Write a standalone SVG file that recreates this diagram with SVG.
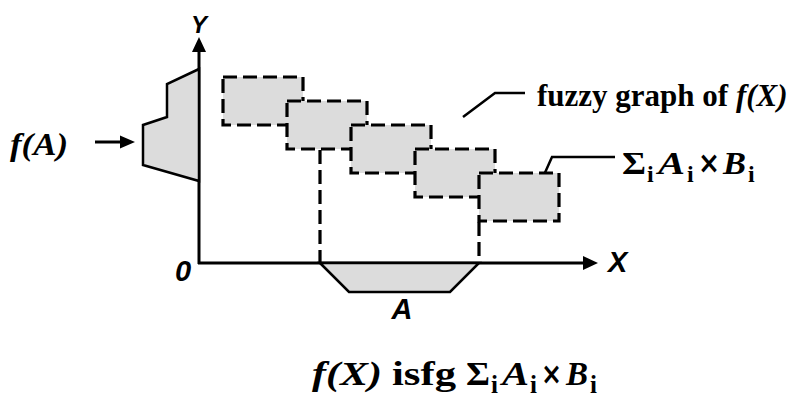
<svg xmlns="http://www.w3.org/2000/svg" width="798" height="400" viewBox="0 0 798 400">
<style>
.ax{stroke:#000;stroke-width:3;fill:none}
.shape{fill:#dcdcdc;stroke:#000;stroke-width:2.5;stroke-linejoin:miter}
.fz{fill:#dcdcdc;stroke:#000;stroke-width:3.2;stroke-dasharray:14 6}
.dl{stroke:#000;stroke-width:3.2;stroke-dasharray:14 6;fill:none}
.ld{stroke:#000;stroke-width:2.5;fill:none}
.sans{font-family:"Liberation Sans",Arial,sans-serif;font-weight:bold;font-style:italic}
.ser{font-family:"Liberation Serif","Times New Roman",serif;font-weight:bold}
.it{font-style:italic}
.mul{font-family:"DejaVu Sans",sans-serif;font-weight:bold}
</style>
<g id="connectors">
<line class="ax" x1="199" y1="264" x2="199" y2="50"/>
<polygon points="199,37 192,52 206,52" fill="#000"/>
<line class="ax" x1="198" y1="263" x2="585" y2="263"/>
<polygon points="598,263 583,256 583,270" fill="#000"/>
<line class="ax" x1="95" y1="142" x2="122" y2="142"/>
<polygon points="135,142 120,135.5 120,148.5" fill="#000"/>
<polyline class="ld" points="463,117 495,93 525,93"/>
<polyline class="ld" points="535,195 552,157 615,157"/>
</g>
<g id="fA-shape">
<polygon class="shape" points="199,69 167,84 167,117 143,125 143,165 199,181"/>
</g>
<g id="A-shape">
<polygon class="shape" points="320,263 349,292 450,292 479,263"/>
</g>
<g id="fuzzy-graph">
<rect class="fz" x="223" y="77" width="80" height="48"/>
<rect class="fz" x="287" y="101" width="80" height="48"/>
<rect class="fz" x="351" y="125" width="80" height="48"/>
<rect class="fz" x="415" y="149" width="80" height="48"/>
<rect class="fz" x="479" y="173" width="80" height="48"/>
<line class="dl" x1="320" y1="150" x2="320" y2="262"/>
<line class="dl" x1="479" y1="222" x2="479" y2="262"/>
</g>
<g id="labels">
<text class="sans" x="199" y="33" font-size="24" text-anchor="middle">Y</text>
<text class="sans" x="608" y="272" font-size="29">X</text>
<text class="sans" x="175" y="281" font-size="29">0</text>
<text class="sans" x="402" y="319" font-size="29" text-anchor="middle">A</text>
<text class="ser it" x="10" y="155" font-size="32" textLength="58" lengthAdjust="spacingAndGlyphs">f(A)</text>
<text class="ser" x="537" y="106" font-size="31">fuzzy graph of <tspan class="it">f(X)</tspan></text>
<g id="sum-label">
<text class="ser" x="622" y="174" font-size="32" textLength="24" lengthAdjust="spacingAndGlyphs">Σ</text>
<text class="ser" x="647" y="182" font-size="24">i</text>
<text class="ser it" x="658" y="174" font-size="32" textLength="27" lengthAdjust="spacingAndGlyphs">A</text>
<text class="ser" x="687" y="182" font-size="24">i</text>
<text class="mul" x="698" y="173" font-size="30" textLength="22" lengthAdjust="spacingAndGlyphs">×</text>
<text class="ser it" x="723" y="174" font-size="32" textLength="23" lengthAdjust="spacingAndGlyphs">B</text>
<text class="ser" x="748" y="182" font-size="24">i</text>
</g>
<g id="bottom-label">
<text class="ser it" x="312" y="385" font-size="34" textLength="70" lengthAdjust="spacingAndGlyphs">f(X)</text>
<text class="ser" x="392" y="385" font-size="34" textLength="64" lengthAdjust="spacingAndGlyphs">isfg</text>
<text class="ser" x="466" y="385" font-size="34" textLength="24" lengthAdjust="spacingAndGlyphs">Σ</text>
<text class="ser" x="491" y="393" font-size="25">i</text>
<text class="ser it" x="502" y="385" font-size="34" textLength="27" lengthAdjust="spacingAndGlyphs">A</text>
<text class="ser" x="530" y="393" font-size="25">i</text>
<text class="mul" x="541" y="384" font-size="31" textLength="21" lengthAdjust="spacingAndGlyphs">×</text>
<text class="ser it" x="566" y="385" font-size="34" textLength="22" lengthAdjust="spacingAndGlyphs">B</text>
<text class="ser" x="590" y="393" font-size="25">i</text>
</g>
</g>
</svg>
